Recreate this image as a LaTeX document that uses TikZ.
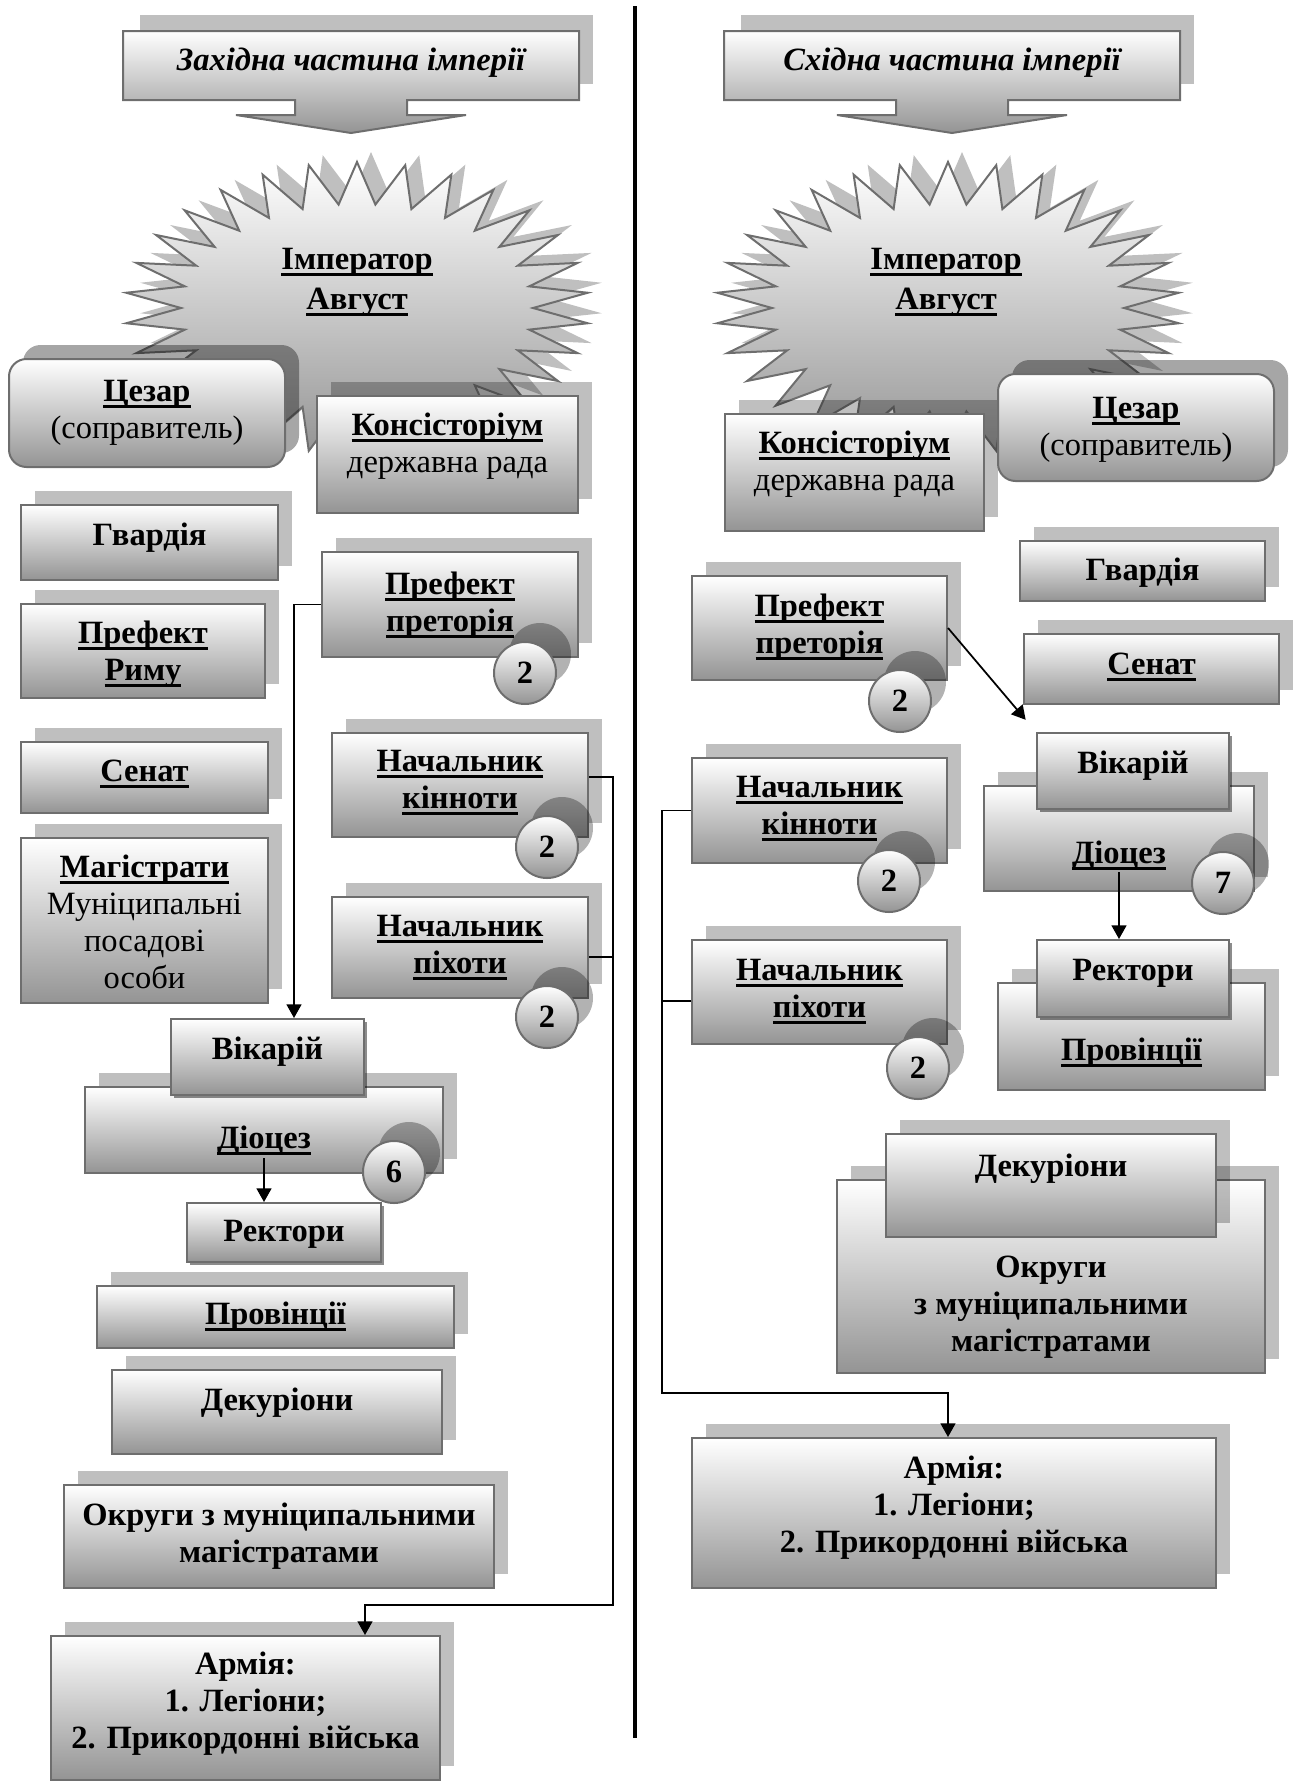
\documentclass[tikz,border=0pt]{standalone}
\usepackage{fontspec}
\setmainfont{Liberation Serif}
\usetikzlibrary{shadows,arrows.meta}

\newsavebox{\undbox}
\newcommand{\und}[1]{\sbox{\undbox}{#1}\rlap{\rule[-2.7pt]{\wd\undbox}{1.1pt}}\usebox{\undbox}}

\tikzset{
  grad/.style={draw=black!57, line width=0.8pt, top color=white, bottom color=black!42},
  plain/.style={grad, align=center, inner xsep=2pt, inner ysep=0pt,
    font=\fontsize{13}{14.8}\selectfont\bfseries},
  box/.style={plain, drop shadow={shadow xshift=5.6pt, shadow yshift=5.6pt, fill=black, opacity=.25}},
  flat/.style={plain, drop shadow={shadow xshift=1.2pt, shadow yshift=-1.2pt, fill=black, opacity=.45}},
  oval/.style={plain, rounded corners=7pt, drop shadow={shadow xshift=5.6pt, shadow yshift=5.6pt, fill=black, opacity=.35}},
  num/.style={grad, circle, minimum size=24.8pt, inner sep=0pt,
    font=\fontsize{13}{14.8}\selectfont\bfseries,
    drop shadow={shadow xshift=6pt, shadow yshift=7.6pt, fill=black, opacity=.3}},
  lbl/.style={align=center, font=\fontsize{13}{16}\selectfont\bfseries},
  wh/.style n args={3}{minimum width={#1*0.4pt}, text height={#2*0.4pt}, text depth={(#3-#2)*0.4pt}},
  link/.style={line width=0.7pt}
}

\begin{document}
\begin{tikzpicture}[x=0.4pt, y=-0.4pt, >={Triangle[length=5.5pt,width=6pt]}]
  \useasboundingbox (0,0) rectangle (1296,1787);
  % Шапки з стрілками
  \foreach \cx/\ttl/\nm in {351/Західна частина імперії/headL, 952/Східна частина імперії/headR} {
    \fill[black,opacity=.25] (\cx-211,15) rectangle (\cx+242,84);
    \draw[grad] (\cx-228,31) -- (\cx+228,31) -- (\cx+228,100) -- (\cx+56,100) -- (\cx+56,115)
      -- (\cx+115,115) -- (\cx,133) -- (\cx-115,115) -- (\cx-56,115) -- (\cx-56,100)
      -- (\cx-228,100) -- cycle;
    \node[font=\fontsize{13}{16}\selectfont\bfseries\itshape] (\nm) at (\cx,63) {\ttl};
  }
  % Зірки (імператор)
  \foreach \cx in {357,948} {
    \fill[black,opacity=.25,xshift=5.6pt,yshift=4pt] plot[samples at={0,6,...,354}]
      ({\cx+ifthenelse(mod(\x,12)==6,232,176)*cos(\x)},{308+ifthenelse(mod(\x,12)==6,146,104)*sin(\x)}) -- cycle;
    \draw[grad] plot[samples at={0,6,...,354}]
      ({\cx+ifthenelse(mod(\x,12)==6,232,176)*cos(\x)},{308+ifthenelse(mod(\x,12)==6,146,104)*sin(\x)}) -- cycle;
  }
  \node[lbl] (impL) at (357,282) {\und{Імператор}\\\und{Август}};
  \node[lbl] (impR) at (946,282) {\und{Імператор}\\\und{Август}};

  % Західна частина
  \node[oval, wh={276}{79}{108}] (cesL) at (147,413) {\und{Цезар}\\{\mdseries (соправитель)}};
  \node[box, wh={261}{76}{117}] (konL) at (447.5,454.5) {\und{Консісторіум}\\{\mdseries державна рада}};
  \node[box, wh={257}{40}{75}] (gvL) at (149.5,542.5) {Гвардія};
  \node[box, wh={244}{76}{94}] (pfrL) at (143,651) {\und{Префект}\\\und{Риму}};
  \node[box, wh={247}{39}{71}] (senL) at (144.5,777.5) {\und{Сенат}};
  \node[box, wh={247}{150}{165}] (magL) at (144.5,920.5)
    {\und{Магістрати}\\{\mdseries Муніципальні}\\{\mdseries посадові}\\{\mdseries особи}};
  \node[box, wh={256}{79}{105}] (ppL) at (450,604.5) {\und{Префект}\\\und{преторія}};
  \node[num] (nPpL) at (525,673) {2};
  \node[box, wh={256}{75}{104}] (nkL) at (460,785) {\und{Начальник}\\\und{кінноти}};
  \node[num] (nNkL) at (547,847) {2};
  \node[box, wh={256}{76}{101}] (npL) at (460,947.5) {\und{Начальник}\\\und{піхоти}};
  \node[num] (nNpL) at (547,1017) {2};
  \node[box, wh={358}{61}{86}] (dioL) at (264,1130) {\und{Діоцез}};
  \node[num] (nDioL) at (394,1172) {6};
  \node[flat, wh={193}{40}{76}] (vikL) at (267.5,1057) {Вікарій};
  \node[flat, wh={194}{38}{59}] (rekL) at (284,1232.5) {Ректори};
  \node[box, wh={357}{38}{62}] (proL) at (275.5,1317) {\und{Провінції}};
  \node[box, wh={330}{40}{84}] (dekL) at (277,1412) {Декуріони};
  \node[box, wh={430}{77}{103}] (okrL) at (279,1536.5) {Округи з муніципальними\\магістратами};
  \node[box, wh={389}{112}{144}] (armL) at (245.5,1708) {Армія:\\1. Легіони;\\2. Прикордонні війська};

  % Східна частина
  \node[box, wh={259}{76}{117}] (konR) at (854.5,472.5) {\und{Консісторіум}\\{\mdseries державна рада}};
  \node[oval, wh={276}{81}{107}] (cesR) at (1136,427.5) {\und{Цезар}\\{\mdseries (соправитель)}};
  \node[box, wh={245}{39}{60}] (gvR) at (1142.5,571) {Гвардія};
  \node[box, wh={255}{77}{104}] (ppR) at (819.5,628) {\und{Префект}\\\und{преторія}};
  \node[num] (nPpR) at (900,701) {2};
  \node[box, wh={255}{40}{70}] (senR) at (1151.5,669) {\und{Сенат}};
  \node[box, wh={255}{76}{105}] (nkR) at (819.5,810.5) {\und{Начальник}\\\und{кінноти}};
  \node[num] (nNkR) at (889,881) {2};
  \node[box, wh={255}{77}{104}] (npR) at (819.5,992) {\und{Начальник}\\\und{піхоти}};
  \node[num] (nNpR) at (918,1068) {2};
  \node[box, wh={270}{77}{105}] (dioR) at (1119,838.5) {\und{Діоцез}};
  \node[num] (nDioR) at (1223,883) {7};
  \node[flat, wh={192}{40}{76}] (vikR) at (1133,771) {Вікарій};
  \node[box, wh={267}{77}{107}] (proR) at (1131.5,1036.5) {\und{Провінції}};
  \node[flat, wh={192}{40}{77}] (rekR) at (1133,978.5) {Ректори};
  \node[box, wh={428}{171}{193}] (okrR) at (1051,1276.5) {Округи\\з муніципальними\\магістратами};
  \node[box, wh={330}{42}{103}] (dekR) at (1051,1185.5) {Декуріони};
  \node[box, wh={524}{114}{150}] (armR) at (954,1513) {Армія:\\1. Легіони;\\2. Прикордонні війська};

  % Роздільна лінія
  \draw[line width=1.3pt] (635,6) -- (635,1738);

  % Зв'язки
  \coordinate (busL) at (613,1605);
  \coordinate (busR) at (662,1393);
  \draw[link,->] (ppL.west) -| ([xshift=10.6pt]vikL.north);
  \draw[link,->] ([yshift=-11.2pt]dioL.center) -- (dioL.center |- rekL.north);
  \draw[link,->] ([yshift=3.2pt]nkL.east) -| (busL) -| ([xshift=47.8pt]armL.north);
  \draw[link] ([yshift=-3.8pt]npL.east) -| (busL);
  \draw[link,->,shorten >=6.4pt] (ppR.east) -- (vikR.north west);
  \draw[link,->] ([yshift=-13.4pt]dioR.center) -- (dioR.center |- rekR.north);
  \draw[link,->] (nkR.west) -| (busR) -| ([xshift=-2.4pt]armR.north);
  \draw[link] ([yshift=-3.6pt]npR.west) -| (busR);
\end{tikzpicture}
\end{document}
